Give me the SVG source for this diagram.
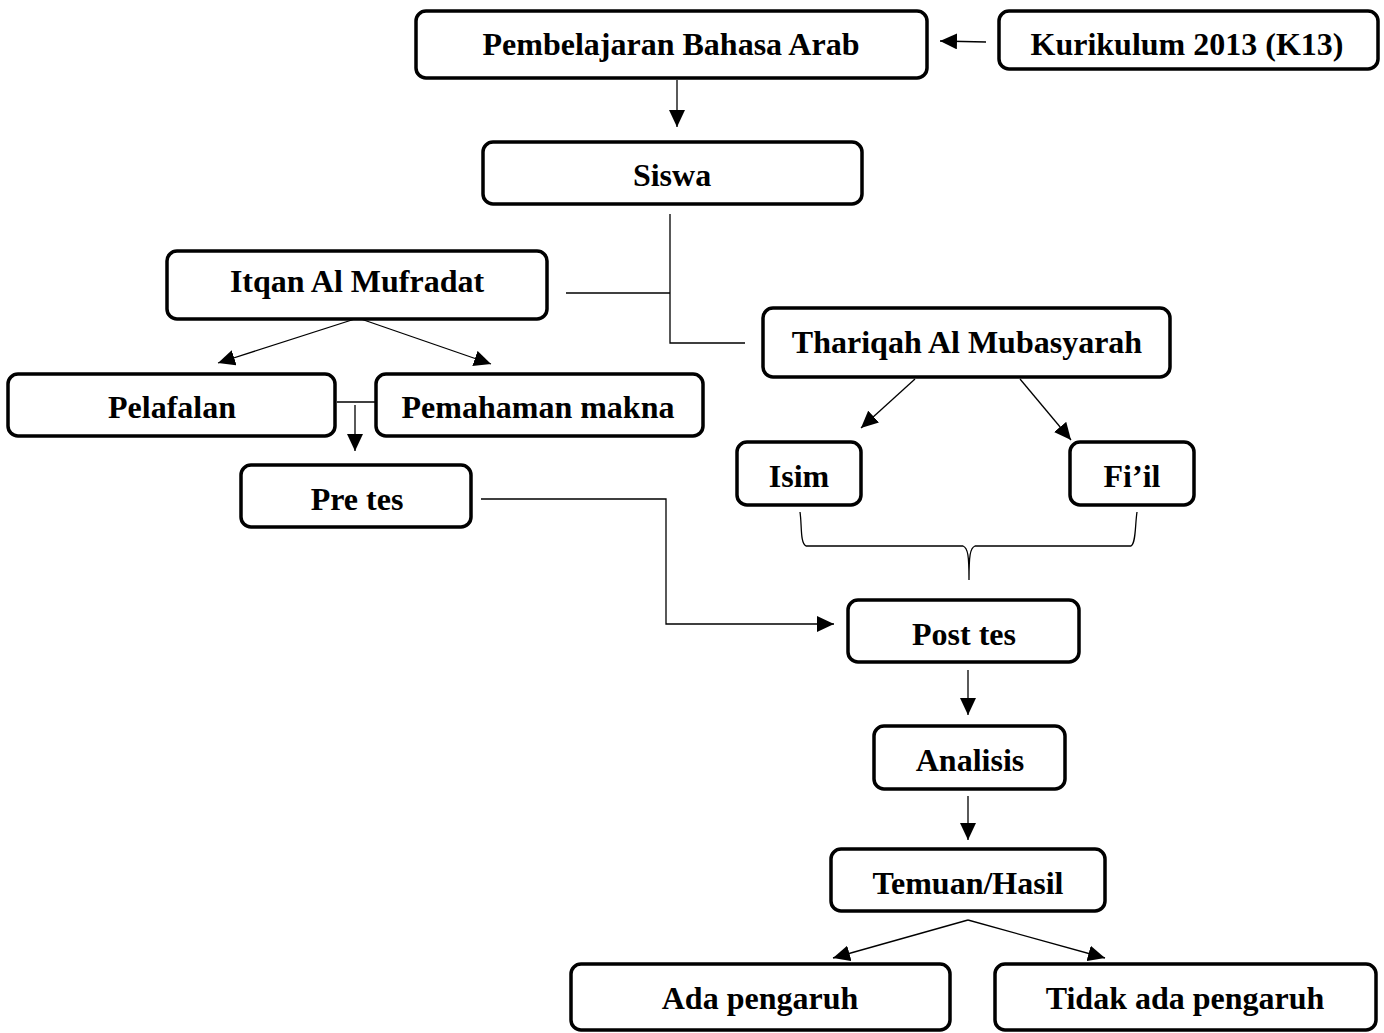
<svg xmlns="http://www.w3.org/2000/svg" width="1384" height="1033" viewBox="0 0 1384 1033">
<style>
.box{fill:#fff;stroke:#000;stroke-width:3.5}
.lbl{font-family:"Liberation Serif","Times New Roman",serif;font-weight:bold;font-size:32px;fill:#000;text-anchor:middle}
.cn{fill:none;stroke:#000;stroke-width:1.3}
</style>
<defs>
<marker id="ah" viewBox="0 0 10 10" refX="10" refY="5" markerWidth="17" markerHeight="16" markerUnits="userSpaceOnUse" orient="auto" preserveAspectRatio="none">
<path d="M0,0 L10,5 L0,10 z" fill="#000"/>
</marker>
</defs>
<rect width="1384" height="1033" fill="#fff"/>
<g id="connectors">
<line class="cn" x1="986" y1="42" x2="940" y2="41" marker-end="url(#ah)"/>
<line class="cn" x1="677" y1="80" x2="677" y2="127" marker-end="url(#ah)"/>
<polyline class="cn" points="670,214 670,343 745,343"/>
<line class="cn" x1="566" y1="293" x2="670" y2="293"/>
<line class="cn" x1="358" y1="318" x2="218" y2="363" marker-end="url(#ah)"/>
<line class="cn" x1="358" y1="318" x2="491" y2="364" marker-end="url(#ah)"/>
<line class="cn" x1="337" y1="402" x2="376" y2="402"/>
<line class="cn" x1="355" y1="405" x2="355" y2="451" marker-end="url(#ah)"/>
<polyline class="cn" points="481,499 666,499 666,624 834,624" marker-end="url(#ah)"/>
<line class="cn" x1="915" y1="379" x2="861" y2="428" marker-end="url(#ah)"/>
<line class="cn" x1="1020" y1="379" x2="1071" y2="440" marker-end="url(#ah)"/>
<path class="cn" d="M800,512 C802,525 800,543 806,546 L963,546 C968,548 969,556 969,580 C969,556 970,548 975,546 L1131,546 C1136,543 1135,525 1137,512"/>
<line class="cn" x1="968" y1="670" x2="968" y2="715" marker-end="url(#ah)"/>
<line class="cn" x1="968" y1="796" x2="968" y2="840" marker-end="url(#ah)"/>
<line class="cn" x1="968" y1="920" x2="833" y2="958" marker-end="url(#ah)"/>
<line class="cn" x1="968" y1="920" x2="1105" y2="958" marker-end="url(#ah)"/>
</g>
<g id="n-pembelajaran"><rect class="box" x="416" y="11" width="511" height="67" rx="10"/><text class="lbl" x="671" y="55">Pembelajaran Bahasa Arab</text></g>
<g id="n-kurikulum"><rect class="box" x="999" y="11" width="379" height="58" rx="10"/><text class="lbl" x="1187" y="55">Kurikulum 2013 (K13)</text></g>
<g id="n-siswa"><rect class="box" x="483" y="142" width="379" height="62" rx="10"/><text class="lbl" x="672" y="186">Siswa</text></g>
<g id="n-itqan"><rect class="box" x="167" y="251" width="380" height="68" rx="10"/><text class="lbl" x="357" y="292">Itqan Al Mufradat</text></g>
<g id="n-thariqah"><rect class="box" x="763" y="308" width="407" height="69" rx="10"/><text class="lbl" x="967" y="353">Thariqah Al Mubasyarah</text></g>
<g id="n-pelafalan"><rect class="box" x="8" y="374" width="327" height="62" rx="10"/><text class="lbl" x="172" y="418">Pelafalan</text></g>
<g id="n-pemahaman"><rect class="box" x="376" y="374" width="327" height="62" rx="10"/><text class="lbl" x="538" y="418">Pemahaman makna</text></g>
<g id="n-isim"><rect class="box" x="737" y="442" width="124" height="63" rx="10"/><text class="lbl" x="799" y="487">Isim</text></g>
<g id="n-fiil"><rect class="box" x="1070" y="442" width="124" height="63" rx="10"/><text class="lbl" x="1132" y="487">Fi’il</text></g>
<g id="n-pretes"><rect class="box" x="241" y="465" width="230" height="62" rx="10"/><text class="lbl" x="357" y="510">Pre tes</text></g>
<g id="n-posttes"><rect class="box" x="848" y="600" width="231" height="62" rx="10"/><text class="lbl" x="964" y="645">Post tes</text></g>
<g id="n-analisis"><rect class="box" x="874" y="726" width="191" height="63" rx="10"/><text class="lbl" x="970" y="771">Analisis</text></g>
<g id="n-temuan"><rect class="box" x="831" y="849" width="274" height="62" rx="10"/><text class="lbl" x="968" y="894">Temuan/Hasil</text></g>
<g id="n-ada"><rect class="box" x="571" y="964" width="379" height="66" rx="10"/><text class="lbl" x="760" y="1009">Ada pengaruh</text></g>
<g id="n-tidak"><rect class="box" x="995" y="964" width="381" height="66" rx="10"/><text class="lbl" x="1185" y="1009">Tidak ada pengaruh</text></g>
</svg>
